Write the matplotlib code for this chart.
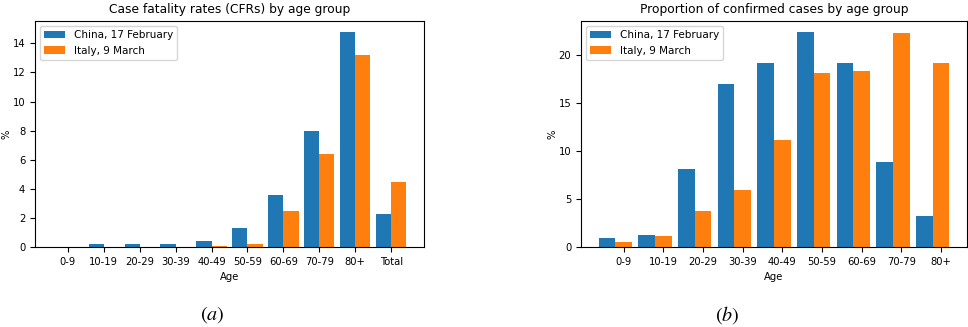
import numpy as np
import matplotlib
matplotlib.use("Agg")
import matplotlib.pyplot as plt

# Case fatality rates (%) by age group
cfr_groups = ["0-9", "10-19", "20-29", "30-39", "40-49", "50-59",
              "60-69", "70-79", "80+", "Total"]
cfr_china = [0.0, 0.2, 0.2, 0.2, 0.4, 1.3, 3.6, 8.0, 14.8, 2.3]
cfr_italy = [0.0, 0.0, 0.0, 0.0, 0.1, 0.2, 2.5, 6.4, 13.2, 4.5]

# Share of confirmed cases (%) by age group
case_groups = ["0-9", "10-19", "20-29", "30-39", "40-49", "50-59",
               "60-69", "70-79", "80+"]
case_china = [0.9, 1.2, 8.1, 17.0, 19.2, 22.4, 19.2, 8.8, 3.2]
case_italy = [0.5, 1.1, 3.7, 5.9, 11.1, 18.1, 18.3, 22.3, 19.1]

label_china = "China, 17 February"
label_italy = "Italy, 9 March"

W, H = 968, 327
fig = plt.figure(figsize=(W / 100, H / 100), dpi=100)

blue = "#1f77b4"
orange = "#ff7f0e"
width = 0.42
fs = 7.2


def px_axes(l, t, r, b):
    return fig.add_axes([l / W, 1 - b / H, (r - l) / W, (b - t) / H])


# (a) case fatality rates
ax1 = px_axes(35, 21, 424, 247)
x1 = np.arange(len(cfr_groups))
ax1.bar(x1 - width / 2, cfr_china, width, color=blue, label=label_china)
ax1.bar(x1 + width / 2, cfr_italy, width, color=orange, label=label_italy)
ax1.set_xticks(x1)
ax1.set_xticklabels(cfr_groups)
ax1.set_title("Case fatality rates (CFRs) by age group", fontsize=8.8)
ax1.set_xlabel("Age", fontsize=fs)
ax1.set_ylabel("%", fontsize=fs, labelpad=1)
ax1.legend(loc="upper left", fontsize=7.5)

# (b) proportion of confirmed cases
ax2 = px_axes(581, 21, 967, 247)
x2 = np.arange(len(case_groups))
ax2.bar(x2 - width, case_china, width, color=blue, label=label_china)
ax2.bar(x2, case_italy, width, color=orange, label=label_italy)
ax2.set_xticks(x2)
ax2.set_xticklabels(case_groups)
ax2.set_title("Proportion of confirmed cases by age group", fontsize=8.8)
ax2.set_xlabel("Age", fontsize=fs)
ax2.set_ylabel("%", fontsize=fs, labelpad=1)
ax2.legend(loc="upper left", fontsize=7.5)

for ax in (ax1, ax2):
    ax.tick_params(labelsize=fs, length=3.5, width=0.8)
    for sp in ax.spines.values():
        sp.set_linewidth(0.8)

fig.text(212 / W, 1 - 315 / H, r"$\mathit{(a)}$", ha="center", va="center",
         fontsize=14.5, math_fontfamily="stix")
fig.text(727 / W, 1 - 315 / H, r"$\mathit{(b)}$", ha="center", va="center",
         fontsize=14.5, math_fontfamily="stix")

fig.savefig("out.png", dpi=100)
